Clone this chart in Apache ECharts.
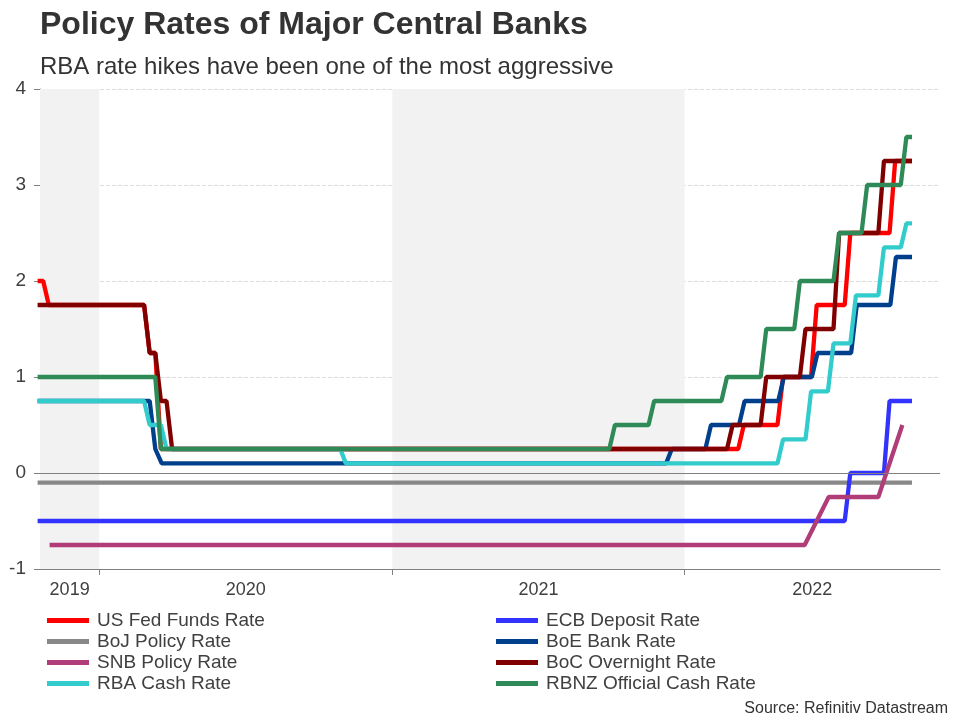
<!DOCTYPE html>
<html>
<head>
<meta charset="utf-8">
<script src="https://cdn.jsdelivr.net/npm/echarts@6/dist/echarts.min.js"></script>
<style>html,body{margin:0;padding:0;background:#fff}#c{width:960px;height:720px}</style>
</head>
<body>
<div id="c"></div>
<script>
// ---- Data ----
const axisStart = '2019-10-19';
const axisEnd = '2022-11-16';
const yearStarts = ['2020-01-01', '2021-01-01', '2022-01-01'];
const shadedYears = [['2019-10-19', '2020-01-01'], ['2021-01-01', '2022-01-01']];
const seriesStart = '2019-10-16';
const seriesEnd = '2022-10-12';

// step series: starting value, dates of the first weekly reading at the new level, new levels
const fedStart = 2.00;
const fedDates = ['2019-10-30', '2020-03-04', '2020-03-18', '2022-03-16', '2022-05-04', '2022-06-15', '2022-07-27', '2022-09-21'];
const fedValues = [1.75, 1.25, 0.25, 0.50, 1.00, 1.75, 2.50, 3.25];

const ecbStart = -0.50;
const ecbDates = ['2022-07-27', '2022-09-14'];
const ecbValues = [0.00, 0.75];

const bojStart = -0.10;
const bojDates = [];
const bojValues = [];

const boeStart = 0.75;
const boeDates = ['2020-03-11', '2020-03-19', '2021-12-16', '2022-02-03', '2022-03-17', '2022-05-05', '2022-06-16', '2022-08-04', '2022-09-22'];
const boeValues = [0.25, 0.10, 0.25, 0.50, 0.75, 1.00, 1.25, 1.75, 2.25];

const bocStart = 1.75;
const bocDates = ['2020-03-04', '2020-03-18', '2020-04-01', '2022-03-02', '2022-04-13', '2022-06-01', '2022-07-13', '2022-09-07'];
const bocValues = [1.25, 0.75, 0.25, 0.50, 1.00, 1.50, 2.50, 3.25];

const rbaStart = 0.75;
const rbaDates = ['2020-03-04', '2020-03-25', '2020-11-04', '2022-05-04', '2022-06-08', '2022-07-06', '2022-08-03', '2022-09-07', '2022-10-05'];
const rbaValues = [0.50, 0.25, 0.10, 0.35, 0.85, 1.35, 1.85, 2.35, 2.60];

const rbnzStart = 1.00;
const rbnzDates = ['2020-03-18', '2021-10-06', '2021-11-24', '2022-02-23', '2022-04-13', '2022-05-25', '2022-07-13', '2022-08-17', '2022-10-05'];
const rbnzValues = [0.25, 0.50, 0.75, 1.00, 1.50, 2.00, 2.50, 3.00, 3.50];

// SNB is monthly (month-end readings)
const snbDates = ['2019-10-31', '2022-05-31', '2022-06-30', '2022-07-31', '2022-08-31', '2022-09-30'];
const snbValues = [-0.75, -0.75, -0.25, -0.25, -0.25, 0.50];

const names = {
  fed: 'US Fed Funds Rate', ecb: 'ECB Deposit Rate', boj: 'BoJ Policy Rate', boe: 'BoE Bank Rate',
  snb: 'SNB Policy Rate', boc: 'BoC Overnight Rate', rba: 'RBA Cash Rate', rbnz: 'RBNZ Official Cash Rate'
};
const colors = {
  fed: '#ff0000', ecb: '#3333ff', boj: '#888888', boe: '#003f8c',
  snb: '#b03d78', boc: '#800000', rba: '#33cccc', rbnz: '#2e8b57'
};

// ---- helpers ----
function ts(s) { const p = s.split('-').map(Number); return Date.UTC(p[0], p[1] - 1, p[2]); }
const WEEK = 7 * 24 * 3600 * 1000;
function steps(startVal, dates, values) {
  const out = [[ts(seriesStart), startVal]];
  let prev = startVal;
  dates.forEach((d, i) => {
    const t = ts(d);
    out.push([t - WEEK, prev]);
    out.push([t, values[i]]);
    prev = values[i];
  });
  out.push([ts(seriesEnd), prev]);
  return out;
}
function pairs(dates, values) { return dates.map((d, i) => [ts(d), values[i]]); }

const bounds = [ts(axisStart)].concat(yearStarts.map(ts), [ts(axisEnd)]);
const labelPos = [];
for (let i = 0; i < bounds.length - 1; i++) labelPos.push(Math.round((bounds[i] + bounds[i + 1]) / 2));

const dataMap = {
  fed: steps(fedStart, fedDates, fedValues),
  boj: steps(bojStart, bojDates, bojValues),
  ecb: steps(ecbStart, ecbDates, ecbValues),
  boe: steps(boeStart, boeDates, boeValues),
  snb: pairs(snbDates, snbValues),
  boc: steps(bocStart, bocDates, bocValues),
  rba: steps(rbaStart, rbaDates, rbaValues),
  rbnz: steps(rbnzStart, rbnzDates, rbnzValues)
};
const drawOrder = ['fed', 'boj', 'ecb', 'boe', 'snb', 'boc', 'rba', 'rbnz'];

const FONT = 'Liberation Sans, Arial, sans-serif';
const series = [{
  type: 'line', name: '_bg', data: [[ts(axisStart), null]], silent: true, z: 1, showSymbol: false,
  markArea: {
    silent: true,
    itemStyle: { color: '#f2f2f2' },
    data: shadedYears.map(p => [{ xAxis: ts(p[0]) }, { xAxis: ts(p[1]) }])
  },
  markLine: {
    silent: true, symbol: 'none', label: { show: false },
    lineStyle: { color: '#808080', width: 1, type: 'solid' },
    data: [{ yAxis: 0 }]
  }
}];
drawOrder.forEach(k => {
  series.push({
    type: 'line', name: names[k], data: dataMap[k], showSymbol: false, z: 3,
    lineStyle: { color: colors[k], width: 4.3 }, itemStyle: { color: colors[k] },
    emphasis: { disabled: true }
  });
});

const legendCommon = {
  orient: 'vertical', icon: 'rect', itemWidth: 42, itemHeight: 5, itemGap: 2,
  top: 611, padding: 0,
  textStyle: { fontFamily: FONT, fontSize: 19, color: '#404040', lineHeight: 19, padding: [0, 0, 0, 3] },
  selectedMode: false
};

const chart = echarts.init(document.getElementById('c'));
chart.setOption({
  animation: false,
  backgroundColor: '#ffffff',
  title: [
    { text: 'Policy Rates of Major Central Banks', left: 40, top: 9, padding: 0,
      textStyle: { fontFamily: FONT, fontSize: 32, fontWeight: 'bold', color: '#333333' } },
    { text: 'RBA rate hikes have been one of the most aggressive', left: 40, top: 55, padding: 0,
      textStyle: { fontFamily: FONT, fontSize: 24, fontWeight: 'normal', color: '#333333' } },
    { text: 'Source: Refinitiv Datastream', right: 12, top: 701, padding: 0,
      textStyle: { fontFamily: FONT, fontSize: 16, fontWeight: 'normal', color: '#333333' } }
  ],
  legend: [
    Object.assign({}, legendCommon, { left: 47, data: [names.fed, names.boj, names.snb, names.rba] }),
    Object.assign({}, legendCommon, { left: 496, data: [names.ecb, names.boe, names.boc, names.rbnz] })
  ],
  grid: { left: 40, right: 20, top: 89, bottom: 151, containLabel: false },
  xAxis: {
    type: 'value', min: ts(axisStart), max: ts(axisEnd),
    axisLine: { show: true, onZero: false, lineStyle: { color: '#808080', width: 1 } },
    axisTick: { show: true, length: 6, customValues: yearStarts.map(ts), lineStyle: { color: '#808080' } },
    axisLabel: {
      customValues: labelPos, margin: 12, fontFamily: FONT, fontSize: 18, color: '#404040',
      formatter: v => String(new Date(v).getUTCFullYear())
    },
    splitLine: { show: false }
  },
  yAxis: {
    type: 'value', min: -1, max: 4, interval: 1,
    axisLine: { show: true, lineStyle: { color: '#808080', width: 1 } },
    axisTick: { show: true, length: 6, lineStyle: { color: '#808080' } },
    axisLabel: { margin: 14, fontFamily: FONT, fontSize: 19, color: '#404040' },
    splitLine: { show: true, lineStyle: { color: '#dddddd', type: 'dashed', width: 1 } }
  },
  series: series
});
</script>
</body>
</html>
